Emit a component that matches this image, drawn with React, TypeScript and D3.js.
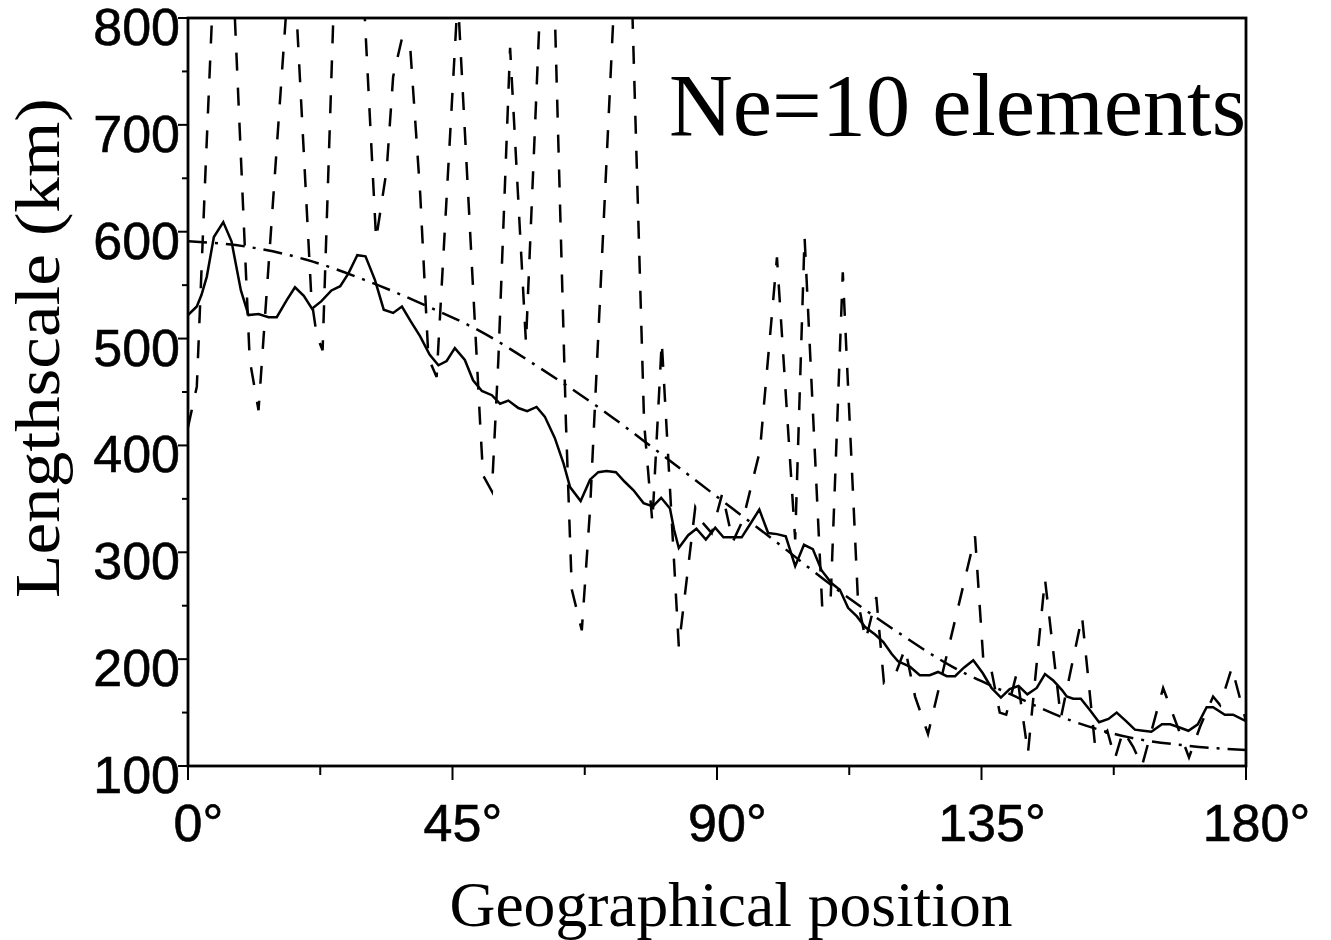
import React from "react";
import * as d3 from "d3";

// ---- data ----
const xMajorTicks = [0, 45, 90, 135, 180];
const xMinorTicks = [22.5, 67.5, 112.5, 157.5];
const yMajorTicks = [100, 200, 300, 400, 500, 600, 700, 800];
const yMinorTicks = [150, 250, 350, 450, 550, 650, 750];

// solid line: degree positions and km values
const solidPos = [0, 1.5, 2.3, 3.2, 4.4, 6.0, 7.4, 9.0, 10.3, 12.0, 13.7, 15.1, 16.8, 18.2, 19.7, 21.1, 22.7, 24.4, 25.9, 27.3, 28.8, 30.2, 31.8, 33.3, 34.9, 36.4, 37.9, 39.5, 41.1, 42.6, 44.0, 45.4, 47.1, 48.5, 50.0, 51.7, 53.1, 54.5, 56.2, 57.7, 59.3, 60.7, 62.4, 63.9, 65.0, 66.8, 68.4, 69.8, 71.2, 72.8, 74.3, 75.8, 77.5, 79.1, 80.5, 82.0, 82.7, 83.5, 85.1, 86.5, 88.1, 89.7, 91.1, 92.7, 94.2, 95.6, 97.2, 98.7, 100.2, 101.7, 103.3, 104.8, 106.3, 107.8, 109.5, 110.9, 112.3, 113.8, 115.2, 116.9, 118.3, 119.7, 120.8, 122.8, 124.5, 126.2, 127.6, 129.1, 130.5, 132.0, 133.6, 135.2, 136.7, 138.3, 139.8, 141.3, 142.8, 144.4, 145.8, 147.2, 148.7, 149.5, 150.6, 151.9, 153.5, 155.0, 156.6, 158.0, 159.6, 161.1, 162.5, 163.9, 165.7, 167.1, 168.7, 170.2, 171.8, 173.3, 174.4, 176.4, 177.8, 180];
const solidVal = [522, 530, 541, 558, 595, 609, 591, 545, 522, 523, 520, 520, 536, 548, 540, 528, 535, 545, 549, 561, 578, 577, 555, 527, 524, 530, 516, 502, 485, 475, 479, 491, 480, 461, 451, 447, 439, 442, 435, 432, 436, 427, 407, 383, 361, 348, 368, 375, 376, 375, 366, 358, 346, 343, 351, 341, 321, 304, 316, 322, 312, 323, 314, 314, 314, 326, 340, 318, 317, 315, 287, 307, 303, 283, 271, 265, 248, 240, 230, 223, 216, 205, 198, 193, 185, 185, 188, 184, 184, 192, 199, 187, 173, 164, 172, 175, 167, 173, 186, 180, 171, 165, 163, 163, 152, 141, 144, 150, 142, 134, 133, 132, 139, 139, 136, 133, 139, 155, 155, 148, 148, 142];

// dashed line
const dashedPos = [0, 1.5, 3.0, 6.0, 10.5, 12.0, 17.7, 21.0, 21.9, 22.9, 26.8, 32.0, 33.8, 34.9, 36.4, 37.8, 39.5, 40.9, 42.3, 45.9, 49.7, 50.2, 51.7, 52.8, 54.8, 57.5, 61.4, 64.3, 65.3, 67.0, 68.4, 74.4, 77.6, 79.0, 80.6, 83.5, 86.3, 87.5, 89.1, 90.9, 92.7, 94.4, 97.3, 100.2, 103.3, 104.9, 107.9, 109.3, 111.4, 114.0, 115.3, 117.1, 118.4, 120.5, 122.0, 123.7, 125.9, 133.9, 135.3, 136.6, 138.1, 139.2, 141.0, 142.9, 145.8, 148.5, 152.1, 154.3, 156.4, 157.7, 159.1, 160.8, 162.3, 165.9, 170.3, 172.2, 174.4, 175.6, 177.6, 180];
const dashedVal = [417, 455, 660, 1050, 480, 433, 885, 537, 503, 489, 1155, 593, 658, 745, 781, 773, 636, 482, 464, 820, 421, 372, 357, 480, 772, 496, 1009, 421, 265, 227, 340, 1037, 421, 328, 497, 212, 342, 328, 318, 355, 310, 330, 395, 576, 312, 595, 249, 251, 562, 253, 218, 258, 178, 188, 210, 165, 130, 315, 200, 192, 150, 148, 187, 112, 275, 145, 240, 120, 133, 107, 133, 118, 100, 173, 108, 137, 165, 157, 192, 142];

// dash-dot reference curve
const refPos = [0, 10, 20, 30, 40, 50, 60, 70, 80, 90, 100, 110, 120, 130, 140, 150, 160, 170, 180];
const refVal = [591, 586, 574, 555, 532, 506, 472, 435, 394, 352, 310, 267, 228, 193, 167, 143, 127, 119, 115];

const W = 1331;
const H = 940;
const M = { left: 188, right: 1246, top: 18, bottom: 766 };

export default function App() {
  const x = d3.scaleLinear().domain([0, 180]).range([M.left, M.right]);
  const y = d3.scaleLinear().domain([100, 800]).range([M.bottom, M.top]);

  const line = d3
    .line<[number, number]>()
    .x((d) => x(d[0]))
    .y((d) => y(d[1]));
  const refLine = d3
    .line<[number, number]>()
    .x((d) => x(d[0]))
    .y((d) => y(d[1]))
    .curve(d3.curveMonotoneX);

  const solid = solidPos.map((p, i) => [p, solidVal[i]] as [number, number]);
  const dashed = dashedPos.map((p, i) => [p, dashedVal[i]] as [number, number]);
  const ref = refPos.map((p, i) => [p, refVal[i]] as [number, number]);

  const sans = "'Liberation Sans', Arial, Helvetica, sans-serif";
  const serif = "'Liberation Serif', 'Times New Roman', Times, serif";
  const fs = 52;

  return (
    <svg
      width={W}
      height={H}
      style={{ position: "absolute", left: 0, top: 0, background: "#fff" }}
    >
      <defs>
        <clipPath id="plotClip">
          <rect x={M.left} y={M.top} width={M.right - M.left} height={M.bottom - M.top} />
        </clipPath>
      </defs>
      <rect x={0} y={0} width={W} height={H} fill="#fff" />

      <g clipPath="url(#plotClip)" fill="none" stroke="#000" strokeWidth={2.5}>
        <path d={refLine(ref) || ""} strokeDasharray="19,8,3,8" />
        <path d={line(dashed) || ""} strokeDasharray="18,17" />
        <path d={line(solid) || ""} strokeLinejoin="miter" />
      </g>

      {/* frame */}
      <rect
        x={M.left}
        y={M.top}
        width={M.right - M.left}
        height={M.bottom - M.top}
        fill="none"
        stroke="#000"
        strokeWidth={2.8}
      />

      {/* y ticks */}
      {yMajorTicks.map((t) => (
        <g key={"ym" + t}>
          <line x1={M.left - 10} x2={M.left} y1={y(t)} y2={y(t)} stroke="#000" strokeWidth={2} />
          <text
            x={M.left - 8}
            y={y(t) + 27}
            textAnchor="end"
            fontFamily={sans}
            fontSize={fs}
            fill="#000"
            stroke="#000"
            strokeWidth={0.6}
          >
            {t}
          </text>
        </g>
      ))}
      {yMinorTicks.map((t) => (
        <line key={"yn" + t} x1={M.left - 6} x2={M.left} y1={y(t)} y2={y(t)} stroke="#000" strokeWidth={2} />
      ))}

      {/* x ticks */}
      {xMajorTicks.map((t) => {
        const numW = String(t).length * 0.556 * fs;
        return (
          <g key={"xm" + t}>
            <line x1={x(t)} x2={x(t)} y1={M.bottom} y2={M.bottom + 14} stroke="#000" strokeWidth={2} />
            <text
              x={x(t) - numW / 2}
              y={841}
              textAnchor="start"
              fontFamily={sans}
              fontSize={fs}
              fill="#000"
              stroke="#000"
              strokeWidth={0.6}
            >
              {t + "°"}
            </text>
          </g>
        );
      })}
      {xMinorTicks.map((t) => (
        <line key={"xn" + t} x1={x(t)} x2={x(t)} y1={M.bottom} y2={M.bottom + 9} stroke="#000" strokeWidth={2} />
      ))}

      {/* titles */}
      <text
        x={731}
        y={926}
        textAnchor="middle"
        fontFamily={serif}
        fontSize={63}
        fill="#000"
        textLength={563}
        lengthAdjust="spacingAndGlyphs"
      >
        Geographical position
      </text>
      <text
        transform={`translate(59, 348) rotate(-90)`}
        textAnchor="middle"
        fontFamily={serif}
        fontSize={64}
        fill="#000"
        textLength={500}
        lengthAdjust="spacingAndGlyphs"
      >
        Lengthscale (km)
      </text>
      <text
        x={1246}
        y={135}
        textAnchor="end"
        fontFamily={serif}
        fontSize={89}
        fill="#000"
        textLength={577}
        lengthAdjust="spacingAndGlyphs"
      >
        Ne=10 elements
      </text>
    </svg>
  );
}
